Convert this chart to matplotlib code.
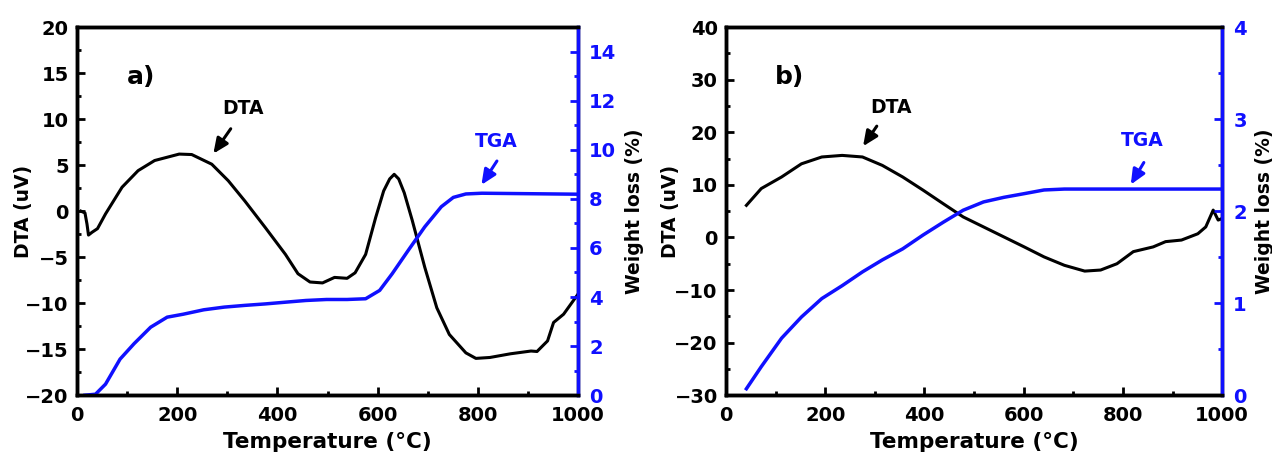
import matplotlib
matplotlib.use("Agg")
import matplotlib.pyplot as plt
from matplotlib.ticker import MultipleLocator

plt.rcParams["font.family"] = ["DejaVu Sans"]
plt.rcParams["font.weight"] = "bold"

# -----------------------------
# Panel a) data
# -----------------------------
dta_a_t = [8, 16, 20, 23, 30, 41, 57, 90, 122, 155, 204, 229, 269, 302, 335, 376,
           416, 441, 465, 490, 514, 539, 555, 576, 596, 612, 624, 633, 642, 653,
           669, 694, 718, 743, 776, 796, 824, 865, 906, 918, 939, 951, 971, 1000]
dta_a_v = [0.0, -0.2, -1.4, -2.6, -2.3, -1.9, -0.3, 2.6, 4.4, 5.5, 6.2, 6.15, 5.1,
           3.3, 1.1, -1.8, -4.7, -6.8, -7.7, -7.8, -7.2, -7.3, -6.7, -4.7, -0.7,
           2.2, 3.5, 4.0, 3.5, 2.0, -1.0, -6.1, -10.5, -13.4, -15.4, -16.0, -15.9,
           -15.5, -15.2, -15.25, -14.1, -12.1, -11.2, -9.0]
tga_a_t = [16, 37, 57, 86, 114, 147, 180, 212, 253, 294, 335, 376, 416, 457, 498,
           539, 576, 604, 629, 661, 694, 727, 751, 776, 808, 1000]
tga_a_w = [0.0, 0.04, 0.45, 1.47, 2.1, 2.77, 3.18, 3.3, 3.48, 3.59, 3.66, 3.72,
           3.79, 3.86, 3.9, 3.9, 3.93, 4.27, 4.95, 5.9, 6.86, 7.68, 8.06, 8.2,
           8.23, 8.19]

# -----------------------------
# Panel b) data
# -----------------------------
dta_b_t = [41, 71, 112, 152, 193, 234, 275, 315, 356, 397, 438, 478, 519, 560,
           601, 641, 682, 723, 755, 788, 821, 861, 886, 918, 951, 967, 982, 992, 1000]
dta_b_v = [6.1, 9.3, 11.5, 14.0, 15.3, 15.6, 15.3, 13.7, 11.5, 9.0, 6.4, 3.9, 2.0,
           0.1, -1.8, -3.7, -5.3, -6.4, -6.2, -5.0, -2.7, -1.8, -0.8, -0.5, 0.7,
           2.0, 5.2, 3.3, 3.6]
tga_b_t = [41, 71, 112, 152, 193, 234, 275, 315, 356, 397, 438, 478, 519, 560,
           601, 641, 682, 1000]
tga_b_w = [0.07, 0.31, 0.62, 0.85, 1.05, 1.19, 1.34, 1.47, 1.59, 1.74, 1.88, 2.01,
           2.1, 2.15, 2.19, 2.23, 2.24, 2.24]

BLUE = "#1010ff"
ARROW = "-|>,head_width=0.4,head_length=0.9"


def style_axes(ax, ax2, ylim, ymaj, ymin, y2lim, y2maj, y2min, lab_l, lab_r):
    ax.set_xlim(0, 1000)
    ax.set_ylim(*ylim)
    ax2.set_ylim(*y2lim)
    ax.xaxis.set_major_locator(MultipleLocator(200))
    ax.xaxis.set_minor_locator(MultipleLocator(100))
    ax.yaxis.set_major_locator(MultipleLocator(ymaj))
    ax.yaxis.set_minor_locator(MultipleLocator(ymin))
    ax2.yaxis.set_major_locator(MultipleLocator(y2maj))
    ax2.yaxis.set_minor_locator(MultipleLocator(y2min))
    for sp in list(ax.spines.values()) + list(ax2.spines.values()):
        sp.set_linewidth(2.5)
    ax2.spines["right"].set_color(BLUE)
    ax.tick_params(which="both", direction="in", width=2, labelsize=14, top=False, right=False)
    ax.tick_params(axis="x", pad=7.5)
    ax.tick_params(axis="y", pad=6)
    ax.tick_params(which="major", length=6)
    ax.tick_params(which="minor", length=3)
    ax2.tick_params(which="both", direction="in", width=2, colors=BLUE, labelsize=14, pad=8)
    ax2.tick_params(which="major", length=6)
    ax2.tick_params(which="minor", length=3)
    ax.set_xlabel("Temperature (°C)", fontsize=15.5, fontweight="bold", labelpad=5)
    ax.set_ylabel("DTA (uV)", fontsize=13.5, fontweight="bold")
    ax2.set_ylabel("Weight loss (%)", fontsize=13.5, fontweight="bold", color="black")
    ax.yaxis.set_label_coords(lab_l, 0.5)
    ax2.yaxis.set_label_coords(lab_r, 0.5)
    for lab in ax.get_xticklabels() + ax.get_yticklabels() + ax2.get_yticklabels():
        lab.set_fontweight("bold")


fig = plt.figure(figsize=(12.72, 4.59), dpi=100)

# ---- panel a
ax = fig.add_axes([0.0605, 0.139, 0.394, 0.802])
ax2 = ax.twinx()
ax.plot(dta_a_t, dta_a_v, color="black", lw=2.2)
ax2.plot(tga_a_t, tga_a_w, color=BLUE, lw=2.5)
style_axes(ax, ax2, (-20, 20), 5, 2.5, (0, 15), 2, 1, -0.088, 1.094)
ax.text(127, 14.6, "a)", fontsize=18, fontweight="bold", ha="center", va="center")
ax.annotate("", xy=(269, 6.0), xytext=(310, 9.2),
            arrowprops=dict(arrowstyle=ARROW, color="black", lw=2.2))
ax.text(332, 11.2, "DTA", fontsize=13.5, fontweight="bold", ha="center", va="center")
ax.annotate("", xy=(804, 2.6), xytext=(841, 5.7),
            arrowprops=dict(arrowstyle=ARROW, color=BLUE, lw=2.2))
ax.text(837, 7.6, "TGA", fontsize=13.5, fontweight="bold", ha="center", va="center", color=BLUE)

# ---- panel b
bx = fig.add_axes([0.5708, 0.139, 0.39, 0.802])
bx2 = bx.twinx()
bx.plot(dta_b_t, dta_b_v, color="black", lw=2.2)
bx2.plot(tga_b_t, tga_b_w, color=BLUE, lw=2.5)
style_axes(bx, bx2, (-30, 40), 10, 5, (0, 4), 1, 0.5, -0.093, 1.067)
bx.text(128, 30.5, "b)", fontsize=18, fontweight="bold", ha="center", va="center")
bx.annotate("", xy=(273, 16.9), xytext=(307, 21.6),
            arrowprops=dict(arrowstyle=ARROW, color="black", lw=2.2))
bx.text(332, 24.7, "DTA", fontsize=13.5, fontweight="bold", ha="center", va="center")
bx.annotate("", xy=(813, 9.6), xytext=(845, 14.7),
            arrowprops=dict(arrowstyle=ARROW, color=BLUE, lw=2.2))
bx.text(839, 18.4, "TGA", fontsize=13.5, fontweight="bold", ha="center", va="center", color=BLUE)

fig.savefig("out.png", dpi=100)
